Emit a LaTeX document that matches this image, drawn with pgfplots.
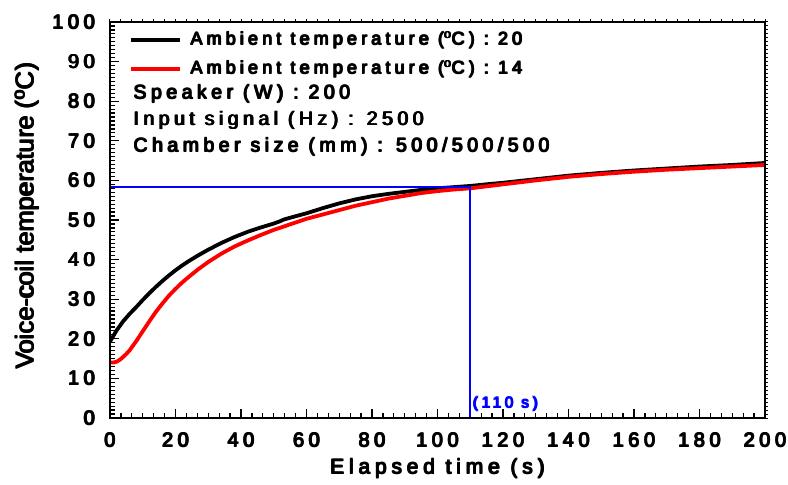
\documentclass[border=0pt]{standalone}
\usepackage{fontspec}
\setmainfont{Liberation Sans}[LetterSpace=23]
\newfontfamily\plainfont{Liberation Sans}
\newcommand\fb[1]{\leavevmode\rlap{#1}\rlap{\raisebox{0.7pt}{#1}}\kern1.1pt\rlap{\raisebox{0.7pt}{#1}}#1}
\usepackage{pgfplots}
\pgfplotsset{compat=1.18}

\pgfplotstableread{
x y
0 19.3
2 22.1
4 24.4
6 26.3
8 28.0
10 29.8
12 31.5
14 33.1
16 34.6
18 36.0
20 37.3
22 38.5
24 39.6
27 41.1
30 42.5
34 44.2
38 45.7
42 47.0
46 48.1
50 49.1
52 49.7
53 50.1
56 50.8
60 51.7
65 53.0
70 54.2
75 55.2
80 56.0
85 56.6
90 57.1
95 57.6
100 58.0
105 58.3
110 58.6
116 59.1
120 59.4
130 60.3
140 61.2
150 61.9
160 62.5
170 63.0
180 63.5
190 63.9
200 64.4
}\blackdata

\pgfplotstableread{
x y
0 14.0
1 14.0
2 14.2
3 14.7
4 15.4
5 16.2
6 17.1
8 19.4
10 21.9
12 24.4
14 26.8
16 28.9
18 30.9
20 32.6
22 34.2
24 35.6
27 37.6
30 39.4
34 41.5
38 43.3
42 44.8
46 46.2
50 47.5
55 48.9
60 50.3
65 51.4
70 52.5
75 53.6
80 54.5
85 55.4
90 56.1
95 56.8
100 57.3
105 57.7
110 58.0
116 58.6
120 59.0
130 60.0
140 60.9
150 61.6
160 62.2
170 62.7
180 63.1
190 63.5
200 63.9
}\reddata

\begin{document}
\begin{tikzpicture}
\begin{axis}[
  at={(0,0)}, anchor=south west,
  scale only axis, width=655pt, height=396pt,
  xmin=0, xmax=200, ymin=0, ymax=100,
  xtick={0,20,...,200}, ytick={0,10,...,100},
  minor x tick num=5, minor y tick num=9,
  tick pos=left, tick align=inside,
  major tick length=9pt, minor tick length=5pt,
  every tick/.style={black, line width=1.2pt},
  axis line style={line width=1.5pt},
  /pgf/number format/assume math mode=true,
  xticklabel={\fb{\pgfmathprintnumber{\tick}}},
  yticklabel={\fb{\pgfmathprintnumber{\tick}}},
  ticklabel style={font=\fontsize{20}{24}\selectfont},
  xticklabel style={yshift=-11pt},
  yticklabel style={xshift=-11pt},
  xlabel={\fb{Elapsed time (s)}},
  ylabel={\fb{Voice-coil temperature (\textsuperscript{o}C)}},
  xlabel style={font=\fontsize{21}{24}\selectfont, at={(axis description cs:0.5,-0.128)}, anchor=center},
  ylabel style={font=\fontsize{25.5}{28}\selectfont\plainfont, at={(axis description cs:-0.127,0.51)}, anchor=center},
  legend cell align=left,
  legend image code/.code={\draw[#1, line width=3.8pt] (0pt,0pt) -- (49pt,0pt);},
  legend style={draw=none, fill=none, at={(axis description cs:0.0245,0.985)}, anchor=north west,
    font=\fontsize{18}{22}\selectfont, row sep=9pt,
    nodes={inner sep=0pt, text height=15pt, text depth=5pt}},
]
\addplot[black, line width=3.8pt] table[x=x, y=y] {\blackdata};
\addlegendentry{\hspace{8pt}\fb{Ambient temperature (\textsuperscript{o}C) : 20}}
\addplot[red, line width=3.8pt] table[x=x, y=y] {\reddata};
\addlegendentry{\hspace{8pt}\fb{Ambient temperature (\textsuperscript{o}C) : 14}}
\addplot[blue, line width=1.8pt, forget plot] coordinates {(0,58.3) (110,58.3) (110,0)};
\node[blue, anchor=base west, font=\fontsize{15.5}{19}\selectfont, inner sep=0pt, xshift=2pt, yshift=10pt] at (axis cs:110,0) {\fb{(110 s)}};
\node[anchor=north west, align=left, inner sep=0pt, font=\fontsize{19.5}{26.5}\selectfont] at (axis description cs:0.035,0.843)
  {\fb{Speaker (W) : 200}\\\fb{Input signal (Hz) : 2500}\\\fb{Chamber size (mm) : 500/500/500}};
\end{axis}
\begin{axis}[
  at={(0,0)}, anchor=south west,
  scale only axis, width=655pt, height=396pt,
  xmin=0, xmax=200, ymin=0, ymax=100,
  xtick={0,20,...,200}, ytick={0,10,...,100},
  minor x tick num=5, minor y tick num=9,
  xtick pos=right, ytick pos=right, tick align=outside,
  major tick length=3pt, minor tick length=2.5pt,
  every tick/.style={black, line width=1pt},
  axis line style={line width=1.5pt},
  xticklabels={}, yticklabels={},
]
\end{axis}
\pgfresetboundingbox
\path[use as bounding box] (-110pt,-67pt) rectangle (678pt,418pt);
\end{tikzpicture}
\end{document}
